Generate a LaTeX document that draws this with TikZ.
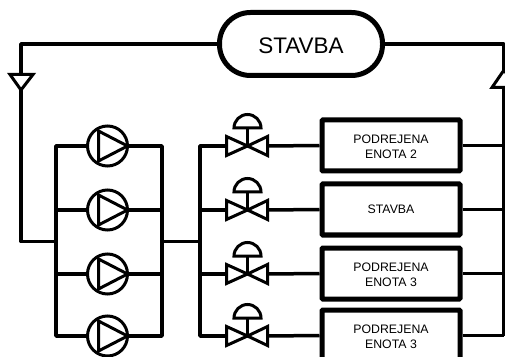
\documentclass[tikz,border=0pt]{standalone}
\usepackage{fontspec}
\setmainfont{Liberation Sans}
\usetikzlibrary{calc,positioning}

\newcommand{\unitstrut}{\rule{0pt}{11pt}}

\tikzset{
  wire/.style={line width=3.5pt, line join=round},
  unitbox/.style={draw, fill=white, line width=5pt, rounded corners=1pt, minimum width=138pt, minimum height=51pt, inner sep=0pt, align=center, font=\fontsize{12.3}{14.5}\selectfont},
  building/.style={draw, fill=white, line width=5pt, rounded corners=31pt, minimum width=163pt, minimum height=63pt, inner sep=0pt, font=\fontsize{22.5}{25}\selectfont},
  pump/.style={draw, circle, fill=white, line width=3pt, minimum size=40pt, inner sep=0pt,
    path picture={\draw[line width=3pt, line join=miter] ($(path picture bounding box.center)+(-9,15)$) -- ($(path picture bounding box.center)+(20,0)$) -- ($(path picture bounding box.center)+(-9,-15)$) -- cycle;}},
  valve/.pic={
    \draw[line width=3pt, fill=white] (-21,-9.5) -- (0,0) -- (-21,9.5) -- cycle;
    \draw[line width=3pt, fill=white] (20,-9.5) -- (0,0) -- (20,9.5) -- cycle;
    \draw[line width=3pt] (0,0) -- (0,-17);
    \draw[line width=3pt, fill=white] (-13.5,-18) arc (180:360:13.5) -- cycle;
    \coordinate (-in) at (-21,0);
    \coordinate (-out) at (20,0);
  }
}

\begin{document}
\begin{tikzpicture}[x=1pt,y=1pt]
\useasboundingbox (0,0) rectangle (505,356);
\clip (0,0) rectangle (505,356);
\begin{scope}[shift={(0,356)},y=-1pt]

\coordinate (retleft) at (21,44);
\coordinate (retright) at (504,44);
\coordinate (join) at (56,241.5);
\coordinate (outlet) at (162,241.5);
\coordinate (split) at (200,241.5);

\node[building] (stavba) at (301,44) {\raisebox{-10pt}[0pt][0pt]{STAVBA}};

\node[pump] (pump1) at (107.5,146) {};
\node[pump] (pump2) at (107.5,210) {};
\node[pump] (pump3) at (107.5,274) {};
\node[pump] (pump4) at (107.5,336) {};

\pic (valve1) at (247.5,146) {valve};
\pic (valve2) at (247.5,210) {valve};
\pic (valve3) at (247.5,274) {valve};
\pic (valve4) at (247.5,336) {valve};

\node[unitbox] (unit1) at (391,145.5) {\unitstrut PODREJENA\\ENOTA 2};
\node[unitbox] (unit2) at (391,209.5) {STAVBA};
\node[unitbox] (unit3) at (391,273.5) {\unitstrut PODREJENA\\ENOTA 3};
\node[unitbox] (unit4) at (391,335.5) {\unitstrut PODREJENA\\ENOTA 3};

\draw[wire] (stavba.west) -- (retleft) -- (retleft |- join) -- (join);
\draw[wire] (stavba.east) -- (retright) -- (retright |- pump4);
\draw[wire] (pump1.west) -| (join |- pump4) -- (pump4.west);
\draw[wire] (pump1.east) -| (outlet |- pump4) -- (pump4.east);
\draw[wire] (pump2.west) -- (pump2.west -| join);
\draw[wire] (pump3.west) -- (pump3.west -| join);
\draw[wire] (pump2.east) -- (pump2.east -| outlet);
\draw[wire] (pump3.east) -- (pump3.east -| outlet);
\draw[wire] (outlet) -- (split);
\draw[wire] (valve1-in) -| (split |- valve4-in) -- (valve4-in);
\draw[wire] (valve2-in) -- (valve2-in -| split);
\draw[wire] (valve3-in) -- (valve3-in -| split);
\draw[wire] (valve1-out) -- (unit1.west);
\draw[wire] (valve2-out) -- (unit2.west);
\draw[wire] (valve3-out) -- (unit3.west);
\draw[wire] (valve4-out) -- (unit4.west);
\draw[wire] (unit1.east) -- (unit1.east -| retright);
\draw[wire] (unit2.east) -- (unit2.east -| retright);
\draw[wire] (unit3.east) -- (unit3.east -| retright);
\draw[wire] (unit4.east) -- (unit4.east -| retright);

\draw[line width=3pt, fill=white] (10,74.5) -- (33,74.5) -- (21,90) -- cycle;
\draw[line width=3pt, fill=white] (492,87.5) -- (516,87.5) -- (504,70) -- cycle;

\end{scope}
\end{tikzpicture}
\end{document}
